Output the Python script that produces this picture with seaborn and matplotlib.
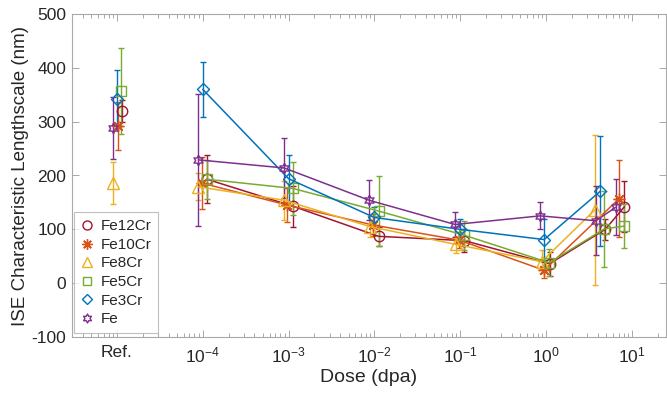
import numpy as np
import matplotlib
matplotlib.use("Agg")
import matplotlib.pyplot as plt
import seaborn as sns
from matplotlib.lines import Line2D
from matplotlib.path import Path
from matplotlib.ticker import LogLocator, NullFormatter, FixedLocator

# ---- data ---------------------------------------------------------------
alloys = ["Fe12Cr", "Fe10Cr", "Fe8Cr", "Fe5Cr", "Fe3Cr", "Fe"]

# unirradiated reference values (drawn at the "Ref." position)
ref_dose = [1.14e-5, 1.04e-5, 8.9e-6, 1.12e-5, 1.01e-5, 8.9e-6]
ref_len = [320, 292, 186, 357, 342, 288]
ref_err = [20, 45, 39, 79, 54, 57]

fe12cr_dose = [1.12e-4, 1.12e-3, 1.12e-2, 0.112, 1.1, 4.9, 8.2]
fe12cr_len = [193, 143, 87, 79, 36, 100, 142]
fe12cr_err = [45, 38, 18, 22, 22, 20, 47]

fe10cr_dose = [9.7e-5, 9.7e-4, 9.7e-3, 0.097, 0.95, 7.1]
fe10cr_len = [186, 145, 108, 80, 24, 157]
fe10cr_err = [48, 31, 20, 15, 15, 72]

fe8cr_dose = [8.9e-5, 8.9e-4, 8.9e-3, 0.089, 0.89, 3.7]
fe8cr_len = [179, 154, 105, 72, 40, 136]
fe8cr_err = [25, 36, 20, 16, 21, 140]

fe5cr_dose = [1.12e-4, 1.12e-3, 1.12e-2, 0.112, 1.09, 4.8, 8.2]
fe5cr_len = [193, 176, 134, 89, 38, 101, 106]
fe5cr_err = [36, 50, 65, 27, 25, 71, 41]

fe3cr_dose = [1e-4, 1e-3, 1e-2, 0.1, 0.95, 4.3]
fe3cr_len = [360, 194, 122, 100, 81, 171]
fe3cr_err = [51, 44, 20, 20, 38, 102]

fe_dose = [8.9e-5, 8.9e-4, 8.7e-3, 0.087, 0.85, 3.8, 6.5]
fe_len = [229, 214, 154, 109, 125, 116, 141]
fe_err = [123, 56, 37, 23, 25, 64, 52]

x_ticks = [1e-5, 1e-4, 1e-3, 1e-2, 1e-1, 1e0, 1e1]
x_tick_labels = ["Ref.", r"$10^{-4}$", r"$10^{-3}$", r"$10^{-2}$",
                 r"$10^{-1}$", r"$10^{0}$", r"$10^{1}$"]
y_ticks = [-100, 0, 100, 200, 300, 400, 500]

# ---- style --------------------------------------------------------------
sns.set_theme(style="ticks")
plt.rcParams["font.family"] = ["Liberation Sans", "DejaVu Sans"]
plt.rcParams["axes.unicode_minus"] = False
plt.rcParams["mathtext.fontset"] = "custom"
plt.rcParams["mathtext.rm"] = "Liberation Sans"
plt.rcParams["mathtext.it"] = "Liberation Sans:italic"
plt.rcParams["mathtext.bf"] = "Liberation Sans:bold"

# six-pointed star outline for the pure-Fe series
_ang = np.deg2rad(np.arange(12) * 30 + 90)
_rad = np.where(np.arange(12) % 2 == 0, 1.0, 0.55)
_verts = np.column_stack([_rad * np.cos(_ang), _rad * np.sin(_ang)])
_verts = np.vstack([_verts, _verts[:1]])
hexagram = Path(_verts, closed=True)

colors = ["#A2142F", "#D95319", "#EDB120", "#77AC30", "#0072BD", "#7E2F8E"]
markers = ["o", (8, 2, 0), "^", "s", "D", hexagram]
msizes = [7.5, 8.5, 8, 6.5, 6.5, 7.5]

series = [
    (fe12cr_dose, fe12cr_len, fe12cr_err),
    (fe10cr_dose, fe10cr_len, fe10cr_err),
    (fe8cr_dose, fe8cr_len, fe8cr_err),
    (fe5cr_dose, fe5cr_len, fe5cr_err),
    (fe3cr_dose, fe3cr_len, fe3cr_err),
    (fe_dose, fe_len, fe_err),
]

fig = plt.figure(figsize=(6.67, 4.0), dpi=100)
ax = fig.add_axes([0.108, 0.1575, 0.8905, 0.8075])

for i, (dose, length, err) in enumerate(series):
    c = colors[i]
    ax.errorbar(dose, length, yerr=err, fmt="none", ecolor=c,
                elinewidth=1.0, capsize=2.2, capthick=1.0, zorder=2)
    sns.lineplot(x=dose, y=length, ax=ax, color=c, marker=markers[i],
                 markersize=msizes[i], mfc="none", mec=c, mew=1.0,
                 lw=1.1, zorder=3)
    ax.errorbar([ref_dose[i]], [ref_len[i]], yerr=[ref_err[i]], fmt="none",
                ecolor=c, elinewidth=1.0, capsize=2.2, capthick=1.0, zorder=2)
    ax.plot([ref_dose[i]], [ref_len[i]], linestyle="none", marker=markers[i],
            markersize=msizes[i], mfc="none", mec=c, mew=1.0, zorder=3)

ax.set_xscale("log")
ax.set_xlim(3e-6, 25)
ax.set_ylim(-100, 500)
ax.xaxis.set_major_locator(FixedLocator(x_ticks))
ax.set_xticklabels(x_tick_labels)
ax.xaxis.set_minor_locator(LogLocator(base=10, subs=np.arange(2, 10), numticks=100))
ax.xaxis.set_minor_formatter(NullFormatter())
ax.set_yticks(y_ticks)

ax.set_xlabel("Dose (dpa)", fontsize=14, color="#262626", labelpad=3)
ax.set_ylabel("ISE Characteristic Lengthscale (nm)", fontsize=13.5,
              color="#262626", labelpad=2)

spine_col = "#a8a8a8"
for s in ax.spines.values():
    s.set_visible(True)
    s.set_color(spine_col)
    s.set_linewidth(0.8)
ax.tick_params(which="both", direction="in", top=True, right=True,
               color=spine_col, width=0.7)
ax.tick_params(which="major", length=5, labelsize=12.5, labelcolor="#262626",
               pad=6)
ax.tick_params(axis="y", which="major", pad=4)
ax.tick_params(which="minor", length=3)

handles = [Line2D([], [], linestyle="none", marker=markers[i], markersize=msizes[i] - 1,
                  mfc="none", mec=colors[i], mew=1.0) for i in range(len(alloys))]
leg = ax.legend(handles, alloys, loc="lower left", bbox_to_anchor=(0.004, 0.012),
                fontsize=11, frameon=True, fancybox=False, borderpad=0.45,
                labelspacing=0.3, handlelength=0.8, handletextpad=0.45,
                borderaxespad=0.0)
leg.get_frame().set_edgecolor("#b0b0b0")
leg.get_frame().set_linewidth(0.8)
for t in leg.get_texts():
    t.set_color("#262626")

fig.savefig("out.png", dpi=100)
